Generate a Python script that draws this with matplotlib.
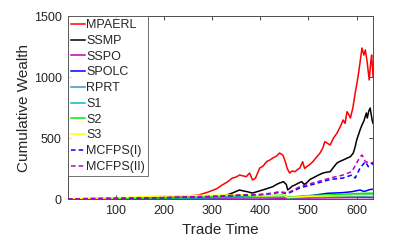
import matplotlib
matplotlib.use('Agg')
import matplotlib.pyplot as plt

plt.rcParams['font.family'] = ['Liberation Sans', 'DejaVu Sans']

# MPAERL (red)
x_mpaerl = [1, 50, 100, 150, 200, 230, 252, 273, 294, 310, 321, 332, 342, 350, 357, 364, 371, 378, 384, 390,
            399, 406, 413, 420, 426, 433, 440, 447, 452, 456, 461, 466, 472, 477, 482, 488, 492, 496, 502,
            509, 516, 524, 530, 534, 540, 545, 552, 559, 566, 572, 576, 580, 584, 587, 592, 597, 601, 604,
            608, 611, 615, 618, 622, 626, 629, 631, 634]
y_mpaerl = [1, 3, 5, 8, 12, 18, 25, 33, 60, 85, 115, 140, 172, 180, 197, 190, 183, 213, 156, 170,
            254, 270, 306, 320, 336, 350, 377, 360, 306, 250, 213, 230, 224, 240, 254, 306, 250, 265, 280,
            306, 340, 377, 420, 470, 455, 443, 500, 539, 593, 648, 620, 716, 690, 664, 746, 869, 960, 1033,
            1150, 1238, 1180, 1222, 1115, 976, 1115, 1180, 1000]

# SSMP (black)
x_ssmp = [1, 100, 200, 250, 290, 321, 342, 357, 365, 373, 384, 395, 405, 416, 426, 433, 440, 448, 454, 457,
          462, 466, 472, 479, 486, 491, 496, 503, 509, 520, 530, 538, 545, 552, 559, 566, 572, 580, 587,
          593, 597, 600, 604, 607, 611, 615, 620, 622, 625, 628, 632, 634]
y_ssmp = [1, 2, 5, 8, 12, 19, 49, 74, 66, 60, 49, 62, 74, 88, 101, 118, 131, 142, 120, 74,
          90, 105, 115, 130, 142, 120, 131, 160, 172, 195, 213, 220, 224, 260, 295, 310, 320, 335, 347,
          377, 430, 484, 530, 566, 607, 640, 705, 664, 720, 746, 648, 620]

# SSPO (magenta, solid)
x_sspo = [1, 200, 300, 350, 400, 450, 500, 550, 600, 634]
y_sspo = [1, 3, 6, 8, 9, 6, 8, 10, 12, 11]

# SPOLC (blue, solid)
x_spolc = [1, 200, 300, 350, 400, 450, 457, 500, 540, 570, 590, 607, 615, 622, 628, 634]
y_spolc = [1, 4, 12, 20, 18, 22, 12, 25, 47, 52, 60, 74, 62, 70, 78, 80]

# RPRT (steel blue)
x_rprt = [1, 200, 300, 350, 400, 450, 457, 500, 550, 600, 634]
y_rprt = [1, 4, 10, 14, 12, 15, 8, 14, 18, 22, 24]

# S1 (cyan)
x_s1 = [1, 200, 300, 350, 400, 450, 457, 500, 550, 600, 634]
y_s1 = [1, 6, 15, 22, 20, 25, 12, 22, 28, 35, 38]

# S2 (green)
x_s2 = [1, 200, 300, 350, 400, 450, 457, 500, 550, 600, 634]
y_s2 = [1, 8, 20, 30, 26, 32, 15, 28, 34, 45, 48]

# S3 (yellow)
x_s3 = [1, 100, 200, 250, 300, 350, 400, 450, 457, 500, 550, 600, 634]
y_s3 = [1, 10, 25, 28, 30, 35, 25, 28, 12, 22, 26, 30, 30]

# MCFPS(I) (blue, dashed)
x_mcfps1 = [1, 200, 300, 357, 400, 426, 440, 457, 482, 509, 545, 572, 590, 597, 607, 618, 624, 632, 634]
y_mcfps1 = [1, 10, 20, 30, 35, 45, 55, 45, 90, 120, 160, 172, 197, 172, 254, 306, 265, 295, 280]

# MCFPS(II) (magenta, dashed)
x_mcfps2 = [1, 200, 300, 357, 400, 426, 440, 457, 482, 509, 545, 572, 590, 600, 606, 611, 618, 628, 634]
y_mcfps2 = [1, 12, 22, 33, 38, 49, 60, 50, 101, 131, 172, 197, 224, 295, 340, 361, 306, 295, 300]

fig = plt.figure(figsize=(3.99, 2.43), dpi=100)
ax = fig.add_axes([0.170, 0.181, 0.765, 0.753])

ax.plot(x_mpaerl, y_mpaerl, color='r', lw=1.1, label='MPAERL')
ax.plot(x_ssmp, y_ssmp, color='k', lw=1.1, label='SSMP')
ax.plot(x_sspo, y_sspo, color='m', lw=1.1, label='SSPO')
ax.plot(x_spolc, y_spolc, color='b', lw=1.1, label='SPOLC')
ax.plot(x_rprt, y_rprt, color='#3a8fc9', lw=1.1, label='RPRT')
ax.plot(x_s1, y_s1, color='c', lw=1.1, label='S1')
ax.plot(x_s2, y_s2, color='#00ee00', lw=1.1, label='S2')
ax.plot(x_s3, y_s3, color='#ffff00', lw=1.1, label='S3')
ax.plot(x_mcfps1, y_mcfps1, color='b', lw=1.1, ls=(0, (3, 2)), label='MCFPS(I)')
ax.plot(x_mcfps2, y_mcfps2, color='m', lw=1.1, ls=(0, (3, 2)), label='MCFPS(II)')

ax.set_xlim(1, 634)
ax.set_ylim(0, 1500)
ax.set_xticks([100, 200, 300, 400, 500, 600])
ax.set_yticks([0, 500, 1000, 1500])
ax.tick_params(direction='in', top=True, right=True, labelsize=9, colors='#262626',
               length=3, width=0.6, pad=4.5)
for s in ax.spines.values():
    s.set_color('#4d4d4d')
    s.set_linewidth(0.7)

ax.set_xlabel('Trade Time', fontsize=11, color='#262626', labelpad=4)
ax.set_ylabel('Cumulative Wealth', fontsize=11, color='#262626', labelpad=2)

leg = ax.legend(loc='upper left', fontsize=9, handlelength=1.1, handletextpad=0.1,
                labelspacing=0.3, borderaxespad=0, borderpad=0.25, frameon=True, fancybox=False)
leg.get_frame().set_edgecolor('#4d4d4d')
leg.get_frame().set_linewidth(0.7)
for t in leg.get_texts():
    t.set_color('#262626')

plt.savefig('out.png', dpi=100)
